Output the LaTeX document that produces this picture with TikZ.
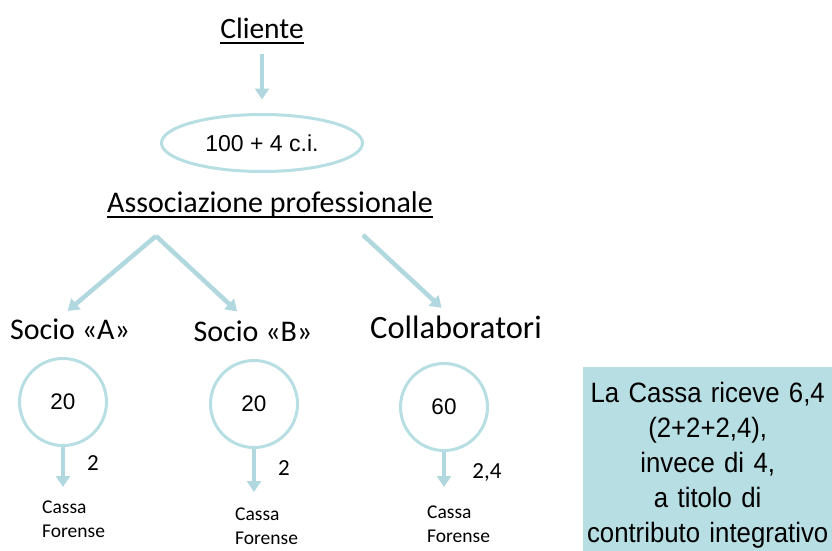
\documentclass[tikz,border=0pt]{standalone}
\usepackage{fontspec}
\setmainfont{Carlito}
\newfontfamily\arialfont{Liberation Sans}
\newfontfamily\notefont[FakeStretch=0.92]{Liberation Sans}
\usetikzlibrary{arrows.meta,shapes.geometric}
\definecolor{lineblue}{RGB}{176,216,222}
\definecolor{ringblue}{RGB}{183,222,227}
\definecolor{notefill}{RGB}{183,222,227}
\newcommand{\ulhead}[1]{\setbox0\hbox{#1}\rlap{\copy0}\rule[-6pt]{\wd0}{2pt}}
\begin{document}
\begin{tikzpicture}[x=1pt,y=-1pt,
  head/.style={anchor=base,font=\fontsize{29.5}{34}\selectfont},
  flow/.style={draw=lineblue,line width=4.5pt,-{Triangle[width=14pt,length=11pt]}},
  ring/.style={draw=ringblue,line width=3pt,circle,minimum size=87pt,inner sep=0pt,
    font=\arialfont\fontsize{22.5}{26}\selectfont},
  cassa/.style={align=left,inner sep=0pt,anchor=north west,font=\fontsize{19.5}{24}\selectfont},
  share/.style={font=\fontsize{23}{27}\selectfont}
]
    \useasboundingbox (0,0) rectangle (832,551);
    \node[head] (cliente) at (262,38) {\ulhead{Cliente}};
    \node[ellipse,draw=ringblue,line width=3pt,minimum width=201pt,minimum height=57pt,
      font=\arialfont\fontsize{23}{27}\selectfont] (fee) at (262,143) {100 + 4 c.i.};
    \node[head,font=\fontsize{30}{34}\selectfont] (assoc) at (270,212) {\ulhead{Associazione professionale}};
    \coordinate (forkL) at (156,236);
    \coordinate (forkR) at (363,235);
    \node[head,font=\fontsize{30}{34}\selectfont] (socioA) at (70,339) {Socio «A»};
    \node[head,font=\fontsize{30}{34}\selectfont] (socioB) at (253,341) {Socio «B»};
    \node[head,font=\fontsize{32.5}{36}\selectfont] (collab) at (456,338) {Collaboratori};
    \node[ring] (cA) at (63,402) {20};
    \node[ring] (cB) at (254,404) {20};
    \node[ring] (cC) at (444,407) {60};
    \node[share] (qA) at (93,463) {2};
    \node[share] (qB) at (284,468) {2};
    \node[share] (qC) at (487,473) {2,4};
    \node[cassa] (cassaA) at (42,500.5) {Cassa\\Forense};
    \node[cassa] (cassaB) at (235,507.5) {Cassa\\Forense};
    \node[cassa] (cassaC) at (427,505.5) {Cassa\\Forense};
    \node[fill=notefill,anchor=north west,text width=249pt,inner xsep=0pt,inner ysep=15pt,
      align=center,font=\notefont\fontsize{28}{35}\selectfont] (note) at (583,367)
      {La Cassa riceve 6,4\\(2+2+2,4),\\invece di 4,\\a titolo di\\contributo integrativo};
    \draw[flow,shorten <=6pt,shorten >=13.5pt] (cliente.south) -- (fee.north);
    \draw[flow,shorten >=6pt] (forkL) -- ([xshift=-7pt]socioA.north);
    \draw[flow,shorten >=8pt] (forkL) -- ([xshift=-10pt]socioB.north);
    \draw[flow,shorten >=6pt] (forkR) -- ([xshift=-10pt]collab.north);
    \draw[flow,shorten >=13.5pt] (cA.south) -- (cA.south |- cassaA.north);
    \draw[flow,shorten >=15.5pt] (cB.south) -- (cB.south |- cassaB.north);
    \draw[flow,shorten >=18.5pt] (cC.south) -- (cC.south |- cassaC.north);
\end{tikzpicture}
\end{document}
